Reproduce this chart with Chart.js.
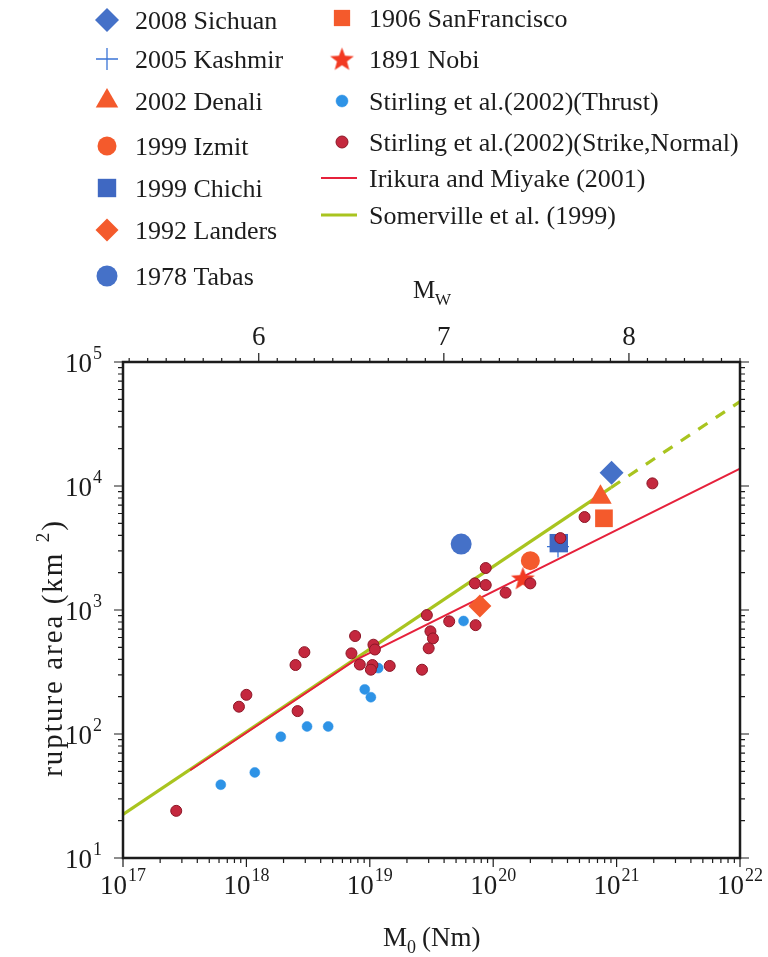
<!DOCTYPE html>
<html>
<head>
<meta charset="utf-8">
<script src="https://cdn.jsdelivr.net/npm/chart.js@4.4.1/dist/chart.umd.min.js"></script>
<style>
  html, body { margin: 0; padding: 0; background: #fff; }
  canvas { display: block; }
</style>
</head>
<body>
<canvas id="ruptureChart" width="768" height="957"></canvas>
<script>
  // Stirling et al. (2002), strike-slip / normal events: M0 (Nm), rupture area (km^2)
  const strikeM0   = [2.7e17, 8.7e17, 1.0e18, 2.5e18, 2.95e18, 2.6e18, 7.6e18, 7.1e18, 8.3e18, 1.07e19, 1.1e19, 1.05e19, 1.02e19, 1.45e19,
                      2.9e19, 2.65e19, 4.4e19, 7.2e19, 3.1e19, 3.25e19, 3.0e19, 8.7e19, 7.1e19, 8.7e19, 1.26e20, 2.0e20, 3.5e20, 5.5e20, 1.95e21];
  const strikeArea = [24, 166, 207, 360, 457, 153, 617, 447, 363, 525, 480, 360, 330, 354,
                      910, 330, 810, 755, 673, 590, 491, 2180, 1640, 1590, 1380, 1640, 3800, 5620, 10500];

  // Stirling et al. (2002), thrust events
  const thrustM0   = [6.2e17, 1.17e18, 1.9e18, 3.1e18, 4.6e18, 9.1e18, 1.02e19, 1.17e19, 5.75e19];
  const thrustArea = [39, 49, 95, 115, 115, 229, 198, 340, 815];

  // individual earthquakes
  const eventNames = ['2008 Sichuan', '2005 Kashmir', '2002 Denali', '1999 Izmit', '1999 Chichi',
                      '1992 Landers', '1978 Tabas', '1906 SanFrancisco', '1891 Nobi'];
  const eventM0    = [9.1e20, 3.35e20, 7.4e20, 2.0e20, 3.4e20, 7.8e19, 5.5e19, 7.9e20, 1.74e20];
  const eventArea  = [12800, 3250, 8100, 2500, 3460, 1075, 3400, 5490, 1800];

  // scaling relations (end / kink points)
  const irikuraM0   = [3.5e17, 7.5e18, 1e22];
  const irikuraArea = [51, 390, 13800];
  const somervilleM0   = [1e17, 9e20];
  const somervilleArea = [22.5, 9700];
  const somervilleExtM0   = [9e20, 1e22];
  const somervilleExtArea = [9700, 48000];

  // axis ticks
  const xDecades = [17, 18, 19, 20, 21, 22];
  const yDecades = [1, 2, 3, 4, 5];
  const mwLabels = [6, 7, 8];

  const BLUE = '#4571c8';
  const ORANGE = '#f45a2c';
  const SERIF = '"Liberation Serif", "DejaVu Serif", serif';
  const INK = '#1c1c1c';

  const mwOf = m0 => (2 / 3) * (Math.log10(m0) - 9.1);
  const pts = (xs, ys) => xs.map((x, i) => ({ x, y: ys[i] }));

  // filled 5 point star for the Nobi marker
  function makeStar(R, color) {
    const c = document.createElement('canvas');
    c.width = c.height = Math.ceil(2 * R + 2);
    const g = c.getContext('2d');
    const cx = c.width / 2, cy = c.height / 2 + 1;
    g.beginPath();
    for (let i = 0; i < 10; i++) {
      const r = i % 2 ? R * 0.42 : R;
      const a = -Math.PI / 2 + i * Math.PI / 5;
      g.lineTo(cx + r * Math.cos(a), cy + r * Math.sin(a));
    }
    g.closePath();
    g.fillStyle = color;
    g.fill();
    return c;
  }
  const starImg = makeStar(12.5, '#f23a22');

  const eventStyles = [
    { pointStyle: 'rectRot',  radius: 12,   color: BLUE },
    { pointStyle: 'cross',    radius: 11,   color: '#3b74d6', line: 1.3 },
    { pointStyle: 'triangle', radius: 13,   color: ORANGE },
    { pointStyle: 'circle',   radius: 9.5,  color: ORANGE },
    { pointStyle: 'rect',     radius: 13,   color: '#3f68c2' },
    { pointStyle: 'rectRot',  radius: 11.5, color: ORANGE },
    { pointStyle: 'circle',   radius: 10.5, color: BLUE },
    { pointStyle: 'rect',     radius: 12.5, color: ORANGE },
    { pointStyle: starImg,    radius: 12,   color: '#f23a22' }
  ];

  const strikeStyle = { pointStyle: 'circle', radius: 5.5, color: '#c4283e', edge: '#8c1626', line: 1 };
  const thrustStyle = { pointStyle: 'circle', radius: 5,   color: '#2e93e6', edge: '#2e93e6', line: 0.5 };
  const IRIKURA = '#e6213b';
  const SOMERVILLE = '#a9c41f';

  const datasets = [];
  datasets.push({
    label: 'Stirling et al.(2002)(Strike,Normal)', data: pts(strikeM0, strikeArea), order: 0,
    pointStyle: 'circle', pointRadius: strikeStyle.radius, backgroundColor: strikeStyle.color,
    borderColor: strikeStyle.edge, borderWidth: strikeStyle.line
  });
  eventNames.forEach((name, i) => {
    const s = eventStyles[i];
    datasets.push({
      label: name, data: [{ x: eventM0[i], y: eventArea[i] }],
      order: s.pointStyle === 'cross' ? 2 : 1,   // Kashmir sits under the Chichi square
      pointStyle: s.pointStyle, pointRadius: s.radius,
      backgroundColor: s.pointStyle === 'cross' ? 'transparent' : s.color,
      borderColor: s.color, borderWidth: s.line || 0
    });
  });
  datasets.push({
    label: 'Stirling et al.(2002)(Thrust)', data: pts(thrustM0, thrustArea), order: 2,
    pointStyle: 'circle', pointRadius: thrustStyle.radius, backgroundColor: thrustStyle.color,
    borderColor: thrustStyle.edge, borderWidth: thrustStyle.line
  });
  datasets.push({
    label: 'Somerville et al. (1999)', data: pts(somervilleM0, somervilleArea), order: 4,
    showLine: true, pointRadius: 0, borderColor: SOMERVILLE, borderWidth: 3.2
  });
  datasets.push({
    label: 'Somerville extrapolated', data: pts(somervilleExtM0, somervilleExtArea), order: 4,
    showLine: true, pointRadius: 0, borderColor: SOMERVILLE, borderWidth: 3.2, borderDash: [11, 10]
  });
  datasets.push({
    label: 'Irikura and Miyake (2001)', data: pts(irikuraM0, irikuraArea), order: 3,
    showLine: true, pointRadius: 0, borderColor: IRIKURA, borderWidth: 2
  });

  // "10" with a superscript exponent, centred or right aligned at x
  function drawPow(ctx, exp, x, y, align, size) {
    const bigFont = size + 'px ' + SERIF, smallFont = Math.round(size * 0.66) + 'px ' + SERIF;
    ctx.font = bigFont;
    const w1 = ctx.measureText('10').width;
    ctx.font = smallFont;
    const w2 = ctx.measureText(String(exp)).width;
    let left = align === 'right' ? x - w1 - w2 - 1 : x - (w1 + w2 + 1) / 2;
    ctx.textAlign = 'left';
    ctx.textBaseline = 'alphabetic';
    ctx.font = bigFont;
    ctx.fillText('10', left, y);
    ctx.font = smallFont;
    ctx.fillText(String(exp), left + w1 + 1, y - size * 0.5);
  }

  function legendMarker(ctx, s, x, y) {
    ctx.save();
    ctx.fillStyle = s.color;
    ctx.strokeStyle = s.edge || s.color;
    ctx.lineWidth = s.line || 0;
    if (Chart.helpers && Chart.helpers.drawPoint) {
      Chart.helpers.drawPoint(ctx, { pointStyle: s.pointStyle, radius: s.radius, rotation: 0, borderWidth: s.line || 0 }, x, y);
    }
    ctx.restore();
  }

  const frameAndText = {
    id: 'frameAndText',
    afterDraw(chart) {
      const { ctx, chartArea: a } = chart;
      const xs = chart.scales.x, ys = chart.scales.y, mw = chart.scales.x2;
      ctx.save();
      ctx.strokeStyle = INK;
      ctx.fillStyle = INK;

      // frame
      ctx.lineWidth = 2.5;
      ctx.strokeRect(a.left, a.top, a.right - a.left, a.bottom - a.top);

      // log ticks, outward on bottom / left / right
      ctx.lineWidth = 1.2;
      ctx.beginPath();
      xDecades.forEach((d, i) => {
        const last = i === xDecades.length - 1;
        for (let k = 1; k <= (last ? 1 : 9); k++) {
          const px = xs.getPixelForValue(k * Math.pow(10, d));
          const len = k === 1 ? 9 : 5;
          ctx.moveTo(px, a.bottom); ctx.lineTo(px, a.bottom + len);
        }
      });
      yDecades.forEach((d, i) => {
        const last = i === yDecades.length - 1;
        for (let k = 1; k <= (last ? 1 : 9); k++) {
          const py = ys.getPixelForValue(k * Math.pow(10, d));
          const len = k === 1 ? 9 : 5;
          ctx.moveTo(a.left, py); ctx.lineTo(a.left - len, py);
          ctx.moveTo(a.right, py); ctx.lineTo(a.right + len, py);
        }
      });
      // Mw ticks on top
      for (let t = Math.ceil(mw.min * 10); t <= Math.floor(mw.max * 10); t++) {
        const px = mw.getPixelForValue(t / 10);
        const len = t % 10 === 0 ? 9 : 4;
        ctx.moveTo(px, a.top); ctx.lineTo(px, a.top - len);
      }
      ctx.stroke();

      // tick labels
      xDecades.forEach(d => drawPow(ctx, d, xs.getPixelForValue(Math.pow(10, d)), a.bottom + 36, 'center', 27));
      yDecades.forEach(d => drawPow(ctx, d, a.left - 21, ys.getPixelForValue(Math.pow(10, d)) + 10, 'right', 27));
      ctx.font = '27px ' + SERIF;
      ctx.textAlign = 'center';
      ctx.textBaseline = 'alphabetic';
      mwLabels.forEach(v => ctx.fillText(String(v), mw.getPixelForValue(v), a.top - 17));

      // axis titles
      ctx.textAlign = 'left';
      ctx.font = '25px ' + SERIF;
      ctx.fillText('M', 413, 298);
      ctx.font = '17px ' + SERIF;
      ctx.fillText('W', 435, 305);

      ctx.font = '27px ' + SERIF;
      ctx.fillText('M', 383, 946);
      const mW = ctx.measureText('M').width;
      ctx.font = '18px ' + SERIF;
      ctx.fillText('0', 383 + mW, 953);
      ctx.font = '27px ' + SERIF;
      ctx.fillText('(Nm)', 383 + mW + 15, 946);

      ctx.save();
      ctx.translate(62, 648);
      ctx.rotate(-Math.PI / 2);
      if ('letterSpacing' in ctx) ctx.letterSpacing = '2px';
      ctx.font = '29px ' + SERIF;
      const t1 = 'rupture area (km ';
      const w1 = ctx.measureText(t1).width;
      ctx.font = '19px ' + SERIF;
      const w2 = ctx.measureText('2').width;
      ctx.font = '29px ' + SERIF;
      const w3 = ctx.measureText(')').width;
      let left = -(w1 + w2 + w3) / 2;
      ctx.fillText(t1, left, 0);
      ctx.font = '19px ' + SERIF;
      ctx.fillText('2', left + w1, -13);
      ctx.font = '29px ' + SERIF;
      ctx.fillText(')', left + w1 + w2, 0);
      if ('letterSpacing' in ctx) ctx.letterSpacing = '0px';
      ctx.restore();

      // legend
      ctx.font = '26px ' + SERIF;
      ctx.textAlign = 'left';
      ctx.textBaseline = 'alphabetic';
      const col1Y = [20, 59, 101, 146, 188, 230, 276];
      for (let i = 0; i < 7; i++) {
        legendMarker(ctx, eventStyles[i], 107, col1Y[i]);
        ctx.fillStyle = INK;
        ctx.fillText(eventNames[i], 135, col1Y[i] + 9);
      }
      const col2 = [
        { name: eventNames[7], s: eventStyles[7] },
        { name: eventNames[8], s: eventStyles[8] },
        { name: 'Stirling et al.(2002)(Thrust)', s: thrustStyle },
        { name: 'Stirling et al.(2002)(Strike,Normal)', s: strikeStyle },
        { name: 'Irikura and Miyake (2001)', lineColor: IRIKURA, lw: 2 },
        { name: 'Somerville et al. (1999)', lineColor: SOMERVILLE, lw: 3.2 }
      ];
      const col2Y = [18, 59, 101, 142, 178, 215];
      col2.forEach((e, i) => {
        const y = col2Y[i];
        if (e.s) {
          const s = Object.assign({}, e.s);
          if (s.pointStyle === 'circle' && s.radius < 7) s.radius = 6;
          if (s.pointStyle === 'rect') s.radius = 11.5;
          legendMarker(ctx, s, 342, y);
        } else {
          ctx.strokeStyle = e.lineColor;
          ctx.lineWidth = e.lw;
          ctx.beginPath();
          ctx.moveTo(321, y); ctx.lineTo(357, y);
          ctx.stroke();
        }
        ctx.fillStyle = INK;
        ctx.font = '26px ' + SERIF;
        ctx.fillText(e.name, 369, y + 9);
      });
      ctx.restore();
    }
  };

  const hidden = { ticks: { display: false }, grid: { display: false }, border: { display: false } };

  new Chart(document.getElementById('ruptureChart'), {
    type: 'scatter',
    data: { datasets },
    options: {
      responsive: false,
      animation: false,
      devicePixelRatio: 1,
      layout: { padding: 0 },
      plugins: { legend: { display: false }, tooltip: { enabled: false } },
      scales: {
        x:  { type: 'logarithmic', position: 'bottom', min: 1e17, max: 1e22, ...hidden,
              afterFit: s => { s.height = 957 - 858; } },
        x2: { type: 'linear', position: 'top', min: mwOf(1e17), max: mwOf(1e22), ...hidden,
              afterFit: s => { s.height = 362; } },
        y:  { type: 'logarithmic', position: 'left', min: 10, max: 1e5, ...hidden,
              afterFit: s => { s.width = 123; } },
        y2: { type: 'logarithmic', position: 'right', min: 10, max: 1e5, ...hidden,
              afterFit: s => { s.width = 768 - 740; } }
      }
    },
    plugins: [frameAndText]
  });
</script>
</body>
</html>
